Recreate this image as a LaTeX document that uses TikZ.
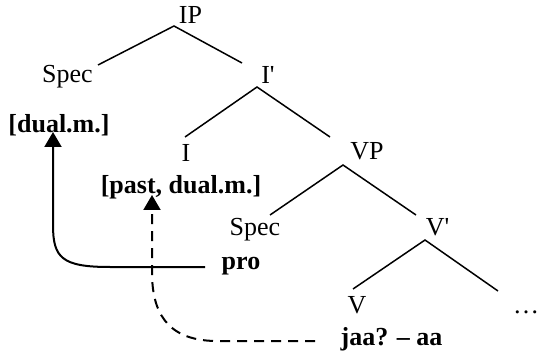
\documentclass[tikz,border=0pt]{standalone}
\usepackage{fontspec}
\setmainfont{Liberation Serif}
\usetikzlibrary{arrows.meta}
\begin{document}
\begin{tikzpicture}[x=1pt,y=-1pt,
  lbl/.style={anchor=base,inner sep=0pt,font=\fontsize{26}{30}\selectfont},
  feat/.style={lbl,font=\fontsize{26}{30}\selectfont\bfseries},
  branch/.style={line width=1.5pt},
  move/.style={line width=2pt,-{Triangle[length=15pt,width=17pt]}},
  movedash/.style={move,dash pattern=on 10pt off 7pt}]
\useasboundingbox (0,0) rectangle (540,355);
% tree labels
\node[lbl] (IP) at (190.5,24) {IP};
\node[lbl] (spec1) at (67.5,83) {Spec};
\node[lbl] (Ibar) at (268,84) {I\textquotesingle};
\node[feat] (dual) at (59,133) {[dual.m.]};
\node[lbl] (I) at (186,162) {I};
\node[lbl] (VP) at (367,160) {VP};
\node[feat] (past) at (181,194) {[past, dual.m.]};
\node[lbl] (spec2) at (255,236) {Spec};
\node[lbl] (Vbar) at (437.5,236) {V\textquotesingle};
\node[feat] (pro) at (241,269) {pro};
\node[lbl] (V) at (357,313) {V};
\node[lbl] (dots) at (526,313) {\dots};
\node[feat] (verb) at (391.5,345) {jaa? – aa};
% branch end points
\coordinate (IPtop) at (174,26);
\coordinate (spec1top) at (98,65);
\coordinate (Ibarend) at (242,63);
\coordinate (Ibartop) at (257,87);
\coordinate (Iend) at (185,137);
\coordinate (VPend) at (330,137);
\coordinate (VPtop) at (343,165);
\coordinate (spec2end) at (270,215);
\coordinate (Vbarend) at (416,215);
\coordinate (Vbartop) at (425,240);
\coordinate (Vend) at (353,289);
\coordinate (dotsend) at (498,291);
\draw[branch] (spec1top) -- (IPtop) -- (Ibarend);
\draw[branch] (Iend) -- (Ibartop) -- (VPend);
\draw[branch] (spec2end) -- (VPtop) -- (Vbarend);
\draw[branch] (Vend) -- (Vbartop) -- (dotsend);
% movement arrows
\coordinate (proL) at (205,267);
\coordinate (dualtip) at (53,132);
\coordinate (verbL) at (315,341);
\coordinate (pasttip) at (152,195);
\draw[move] (proL) -- (110,267) .. controls (62,267) and (53,258) .. (53,225) -- (dualtip);
\draw[movedash] (verbL) -- (215,341) .. controls (165,340) and (152,310) .. (152,272) -- (pasttip);
\end{tikzpicture}
\end{document}
